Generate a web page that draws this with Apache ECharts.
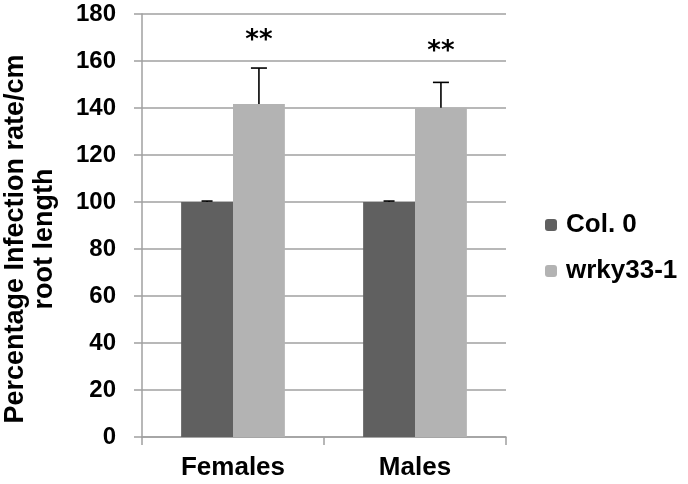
<!DOCTYPE html>
<html><head><meta charset="utf-8">
<script src="https://cdn.jsdelivr.net/npm/echarts@6/dist/echarts.min.js"></script>
<style>html,body{margin:0;padding:0;background:#fff}#c{width:688px;height:484px}</style>
</head><body><div id="c"></div>
<script>
const categories = ['Females', 'Males'];
const seriesNames = ['Col. 0', 'wrky33-1'];
const col0Values = [100, 100];
const col0Errors = [0.4, 0.4];
const wrkyValues = [141.7, 140.1];
const wrkyErrors = [15.3, 10.8];
const sigLabels = ['**', '**'];
const sigPositions = [168.6, 163.8];
const yTicks = [0, 20, 40, 60, 80, 100, 120, 140, 160, 180];

const chart = echarts.init(document.getElementById('c'));
const FONT = 'Liberation Sans, Arial, sans-serif';
const CAT_GAP = 0.43;

function errRender(sideSign, vals, errs, capHalf) {
  return function (params, api) {
    const i = api.value(0);
    const v = vals[i], e = errs[i];
    const base = api.coord([i, v]);
    const catW = api.size([1, 0])[0];
    const barW = catW * (1 - CAT_GAP) / 2;
    const x = base[0] + sideSign * barW / 2;
    const top = api.coord([i, v + e])[1];
    return {
      type: 'group',
      children: [
        {type: 'line', shape: {x1: x, y1: base[1], x2: x, y2: top}, style: {stroke: '#000', lineWidth: 1.6}},
        {type: 'line', shape: {x1: x - capHalf, y1: top, x2: x + capHalf, y2: top}, style: {stroke: '#000', lineWidth: 1.6}}
      ]
    };
  };
}

chart.setOption({
  animation: false,
  backgroundColor: '#fff',
  grid: {left: 142, right: 182, top: 14, bottom: 47, containLabel: false, outerBoundsMode: 'none'},
  legend: {
    orient: 'vertical', left: 540, top: 207, itemWidth: 12, itemHeight: 12, itemGap: 20,
    data: seriesNames,
    textStyle: {fontFamily: FONT, fontWeight: 'bold', fontSize: 26, color: '#000', padding: [0, 0, 0, 4]}
  },
  xAxis: {
    type: 'category', data: categories,
    axisLine: {lineStyle: {color: '#a0a0a0', width: 1.5}},
    axisTick: {show: true, length: 8, lineStyle: {color: '#a0a0a0', width: 1.5}},
    axisLabel: {fontFamily: FONT, fontWeight: 'bold', fontSize: 26, color: '#000', margin: 18}
  },
  yAxis: {
    type: 'value', min: 0, max: 180, interval: 20,
    name: 'Percentage Infection rate/cm\nroot length',
    nameLocation: 'middle', nameRotate: 90, nameGap: 83,
    nameTextStyle: {fontFamily: FONT, fontWeight: 'bold', fontSize: 27, color: '#000', lineHeight: 29, padding: [0, 27, 0, 0]},
    axisLine: {show: true, lineStyle: {color: '#a0a0a0', width: 1.5}},
    axisTick: {show: true, length: 8, lineStyle: {color: '#a0a0a0', width: 1.5}},
    splitLine: {lineStyle: {color: '#a0a0a0', width: 1.5}},
    axisLabel: {fontFamily: FONT, fontWeight: 'bold', fontSize: 24, color: '#000', margin: 26,
      formatter: v => yTicks.includes(v) ? String(v) : ''}
  },
  series: [
    {name: seriesNames[0], type: 'bar', data: col0Values, barGap: '0%', barCategoryGap: (CAT_GAP * 100) + '%',
      itemStyle: {color: '#606060'}},
    {name: seriesNames[1], type: 'bar', data: wrkyValues, barGap: '0%', barCategoryGap: (CAT_GAP * 100) + '%',
      itemStyle: {color: '#b3b3b3'}},
    {type: 'custom', renderItem: errRender(-1, col0Values, col0Errors, 5.5), data: categories.map((c, i) => [i]), z: 5, silent: true},
    {type: 'custom', renderItem: errRender(1, wrkyValues, wrkyErrors, 8), data: categories.map((c, i) => [i]), z: 5, silent: true},
    {type: 'custom', z: 6, silent: true,
      data: categories.map((c, i) => [i, sigPositions[i]]),
      renderItem: function (params, api) {
        const i = api.value(0);
        const p = api.coord([i, api.value(1)]);
        const catW = api.size([1, 0])[0];
        const barW = catW * (1 - CAT_GAP) / 2;
        return {type: 'text', x: p[0] + barW / 2, y: p[1],
          style: {text: sigLabels[i], fontFamily: 'DejaVu Sans, sans-serif', fontWeight: 'bold', fontSize: 26, fill: '#000', align: 'center', verticalAlign: 'middle'}};
      }
    }
  ]
});
</script></body></html>
